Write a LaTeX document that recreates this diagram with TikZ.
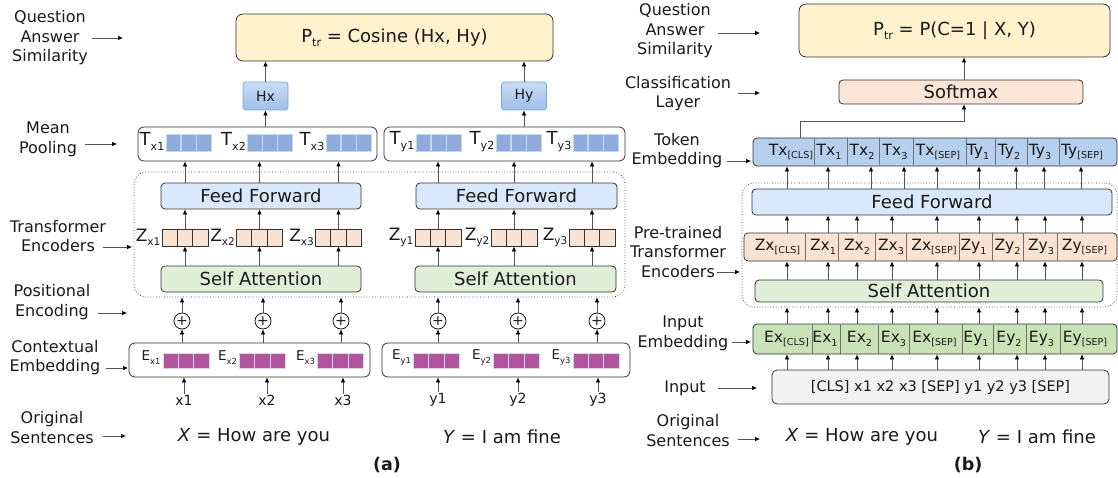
\documentclass[tikz,border=0pt]{standalone}
\usepackage{fontspec}
\setmainfont{DejaVu Sans}
\usetikzlibrary{arrows.meta,calc}

\definecolor{txt}{HTML}{1A1A1A}
\definecolor{bd}{HTML}{333333}
\definecolor{ylw}{HTML}{FFF2CC}
\definecolor{hTop}{HTML}{C9DCF5}
\definecolor{hBot}{HTML}{9FBFEA}
\definecolor{hBd}{HTML}{7EA6E0}
\definecolor{tsq}{HTML}{8EADDC}
\definecolor{tsqBd}{HTML}{C6D5EE}
\definecolor{ffc}{HTML}{DAE8FC}
\definecolor{zc}{HTML}{FBE3D3}
\definecolor{sac}{HTML}{E0EFD8}
\definecolor{esq}{HTML}{B0559C}
\definecolor{esqBd}{HTML}{DAD3EE}
\definecolor{tokc}{HTML}{B7CFEE}
\definecolor{peach}{HTML}{FBE5D6}
\definecolor{exc}{HTML}{C9E3B7}
\definecolor{inc}{HTML}{F2F2F2}
\definecolor{arrc}{HTML}{555555}

\newcommand{\fsz}[2]{\fontsize{#1pt}{#2pt}\selectfont}
\newcommand{\lo}[1]{\raisebox{-0.25em}{\scalebox{0.62}{#1}}}

% three equal cells side by side, drawn as one node plus two dividers
\newcommand{\trio}[5]{%
  \node[#4] (#1) at (#2,#3) {};
  \draw[#5] ($(#1.north west)!1/3!(#1.north east)$) -- ($(#1.south west)!1/3!(#1.south east)$)
            ($(#1.north west)!2/3!(#1.north east)$) -- ($(#1.south west)!2/3!(#1.south east)$);}

\begin{document}
\begin{tikzpicture}[x=1pt,y=-1pt,every node/.style={text=txt}]
\tikzset{
  box/.style={draw=bd,line width=0.8pt,rounded corners=4pt,inner sep=0pt,font=\fsz{18}{21}},
  lbl/.style={font=\fsz{16}{19.5},align=center,inner sep=0pt},
  arr/.style={draw=arrc,line width=0.7pt,-{Latex[length=5pt,width=4.5pt,color=black]}},
  hbox/.style={top color=hTop,bottom color=hBot,draw=hBd,line width=0.8pt,rounded corners=3pt,
    minimum width=45pt,minimum height=28pt,inner sep=0pt,font=\fsz{14}{16}},
  pool/.style={draw=bd,fill=white,line width=0.8pt,rounded corners=6pt,minimum height=34pt,inner sep=0pt},
  encl/.style={draw=bd,dotted,line width=0.7pt,rounded corners=12pt,inner sep=0pt},
  tgrp/.style={fill=tsq,draw=tsqBd,line width=0.9pt,minimum width=45pt,minimum height=17pt,inner sep=0pt},
  tdiv/.style={draw=tsqBd,line width=1.3pt},
  zgrp/.style={fill=zc,draw=bd,line width=0.8pt,minimum width=46pt,minimum height=17pt,inner sep=0pt},
  zdiv/.style={draw=bd,line width=0.8pt},
  egrp/.style={fill=esq,draw=esqBd,line width=0.9pt,minimum width=46pt,minimum height=15pt,inner sep=0pt},
  ediv/.style={draw=esqBd,line width=1.3pt},
  tlab/.style={font=\fsz{18}{20},inner sep=0pt},
  zlab/.style={font=\fsz{17}{20},inner sep=0pt},
  elab/.style={font=\fsz{13.5}{16},inner sep=0pt},
  plus/.style={circle,draw=black,fill=white,line width=0.7pt,minimum size=16pt,inner sep=0pt,font=\fsz{14}{14}},
  word/.style={font=\fsz{14}{16},inner sep=1pt},
  sent/.style={font=\fsz{18}{21},inner sep=0pt},
  panelcap/.style={font=\fsz{17.5}{20}\bfseries,inner sep=0pt},
  row/.style={draw=bd,line width=0.8pt,rounded corners=4pt,inner sep=0pt},
  rdiv/.style={draw=bd!70,line width=0.6pt},
  rlab/.style={font=\fsz{15.5}{18},inner sep=0pt},
}
\useasboundingbox (0,0) rectangle (1118,478);

% ================= (a) bi-encoder =================
% side labels
\node[lbl] (qaA) at (50,38) {Question\\Answer\\Similarity};
\node[lbl] (mpA) at (48,139.5) {Mean\\Pooling};
\node[lbl] (teA) at (58,236) {Transformer\\Encoders};
\node[lbl] (peA) at (52,302) {Positional\\Encoding};
\node[lbl] (ceA) at (55,357.5) {Contextual\\Embedding};
\node[lbl] (osA) at (52,427.5) {Original\\Sentences};
\coordinate (qaA1) at (92,38);   \coordinate (qaA2) at (123,38);
\coordinate (mpA1) at (85,144);  \coordinate (mpA2) at (117,144);
\coordinate (teA1) at (103,247); \coordinate (teA2) at (132,247);
\coordinate (peA1) at (98,313);  \coordinate (peA2) at (127,313);
\coordinate (ceA1) at (106,368); \coordinate (ceA2) at (128,368);
\coordinate (osA1) at (103,436); \coordinate (osA2) at (126,436);
\foreach \p in {qaA,mpA,teA,peA,ceA,osA} \draw[arr] (\p1) -- (\p2);

% similarity head
\node[box,fill=ylw,rounded corners=7pt,minimum width=317pt,minimum height=47pt] (simA) at (394.5,37.5)
  {P\lo{tr} = Cosine (Hx, Hy)};
\node[hbox] (hx) at (265.5,96) {Hx};
\node[hbox] (hy) at (524,96) {Hy};

% mean pooling rows
\node[pool,minimum width=239pt] (tx) at (257.5,144) {};
\node[pool,minimum width=241pt] (ty) at (504.5,144) {};
\trio{tsx1}{188.5}{142.5}{tgrp}{tdiv}
\trio{tsx2}{270}{142.5}{tgrp}{tdiv}
\trio{tsx3}{348.5}{142.5}{tgrp}{tdiv}
\trio{tsy1}{438.5}{142.5}{tgrp}{tdiv}
\trio{tsy2}{518.5}{142.5}{tgrp}{tdiv}
\trio{tsy3}{595.5}{142.5}{tgrp}{tdiv}
\foreach \g/\t in {tsx1/x1,tsx2/x2,tsx3/x3,tsy1/y1,tsy2/y2,tsy3/y3}
  \node[tlab,anchor=east] at ([xshift=-1pt,yshift=1pt]\g.west) {T\lo{\t}};

% encoder block
\node[encl,minimum width=491pt,minimum height=125pt] (encA) at (379.5,234.5) {};
\node[box,fill=ffc,minimum width=200pt,minimum height=26pt] (ffA) at (261,196) {Feed Forward};
\node[box,fill=ffc,minimum width=201pt,minimum height=26pt] (ffB) at (516.5,196) {Feed Forward};
\node[box,fill=sac,minimum width=200pt,minimum height=26pt] (saA) at (261,279) {Self Attention};
\node[box,fill=sac,minimum width=201pt,minimum height=26pt] (saB) at (515.5,279) {Self Attention};
\trio{zx1}{185}{237.5}{zgrp}{zdiv}
\trio{zx2}{259.5}{237.5}{zgrp}{zdiv}
\trio{zx3}{338.5}{237.5}{zgrp}{zdiv}
\trio{zy1}{438}{237.5}{zgrp}{zdiv}
\trio{zy2}{514}{237.5}{zgrp}{zdiv}
\trio{zy3}{592}{237.5}{zgrp}{zdiv}
\foreach \g/\t in {zx1/x1,zx2/x2,zx3/x3,zy1/y1,zy2/y2,zy3/y3}
  \node[zlab,anchor=east] at ([xshift=-1pt]\g.west) {Z\lo{\t}};

% contextual embeddings
\node[pool,minimum width=241pt] (ex) at (249.5,360) {};
\node[pool,minimum width=248pt] (ey) at (506,360) {};
\trio{esx1}{186}{360.5}{egrp}{ediv}
\trio{esx2}{262.5}{360.5}{egrp}{ediv}
\trio{esx3}{340.5}{360.5}{egrp}{ediv}
\trio{esy1}{436.5}{360.5}{egrp}{ediv}
\trio{esy2}{516.5}{360.5}{egrp}{ediv}
\trio{esy3}{596}{360.5}{egrp}{ediv}
\foreach \g/\t in {esx1/x1,esx2/x2,esx3/x3,esy1/y1,esy2/y2,esy3/y3}
  \node[elab,anchor=east] at ([xshift=-2pt,yshift=3pt]\g.west) {E\lo{\t}};

% positional encoding and inputs
\foreach \n/\x/\w in {x1/182/184,x2/263/267,x3/341/343,y1/438/438,y2/518/518,y3/597/598}{
  \node[plus] (p\n) at (\x,321) {+};
  \node[word] (w\n) at (\w,400) {\n};
}
\foreach \n in {x1,x2,x3} {
  \draw[arr] (w\n.north) -- (ex.south -| w\n);
  \draw[arr] (ex.north -| p\n) -- (p\n.south);
  \draw[arr] (p\n.north) -- (encA.south -| p\n);
}
\foreach \n in {y1,y2,y3} {
  \draw[arr] (w\n.north) -- (ey.south -| w\n);
  \draw[arr] (ey.north -| p\n) -- (p\n.south);
  \draw[arr] (p\n.north) -- (encA.south -| p\n);
}
\foreach \n/\s/\f/\t in {x1/saA/ffA/tx,x2/saA/ffA/tx,x3/saA/ffA/tx,y1/saB/ffB/ty,y2/saB/ffB/ty,y3/saB/ffB/ty}{
  \draw[arr] (\s.north -| z\n) -- (z\n.south);
  \draw[arr] (z\n.north) -- (\f.south -| z\n);
  \draw[arr] (\f.north -| z\n) -- (\t.south -| z\n);
}
\draw[arr] (tx.north -| hx) -- (hx.south);
\draw[arr] (ty.north -| hy) -- (hy.south);
\draw[arr] (hx.north) -- (simA.south -| hx);
\draw[arr] (hy.north) -- (simA.south -| hy);

\node[sent] (sxA) at (254,437) {\textit{X} = How are you};
\node[sent] (syA) at (502,437) {\textit{Y} = I am fine};
\node[panelcap] (capA) at (387,465) {(a)};

% ================= (b) cross-encoder =================
\node[lbl] (qaB) at (675,31) {Question\\Answer\\Similarity};
\node[lbl] (clB) at (678,93.5) {Classification\\Layer};
\node[lbl] (tkB) at (677,150.5) {Token\\Embedding};
\node[lbl] (ptB) at (678,252) {Pre-trained\\Transformer\\Encoders};
\node[lbl] (ieB) at (683,333.5) {Input\\Embedding};
\node[lbl] (inL) at (685,388) {Input};
\node[lbl] (osB) at (688,430.5) {Original\\Sentences};
\coordinate (qaB1) at (718,33);  \coordinate (qaB2) at (760,33);
\coordinate (clB1) at (738,93);  \coordinate (clB2) at (760,93);
\coordinate (tkB1) at (727,161); \coordinate (tkB2) at (751,161);
\coordinate (ptB1) at (717,272); \coordinate (ptB2) at (740,272);
\coordinate (ieB1) at (732,342); \coordinate (ieB2) at (751,342);
\coordinate (inL1) at (718,388); \coordinate (inL2) at (757,388);
\coordinate (osB1) at (738,439); \coordinate (osB2) at (760,439);
\foreach \p in {qaB,clB,tkB,ptB,ieB,inL,osB} \draw[arr] (\p1) -- (\p2);

\node[box,fill=ylw,rounded corners=7pt,minimum width=311pt,minimum height=53pt] (simB) at (954.5,30.5)
  {P\lo{tr} = P(C=1 | X, Y)};
\node[box,fill=peach,minimum width=244pt,minimum height=24pt] (soft) at (961,92) {Softmax};

% token embedding row
\node[row,fill=tokc,minimum width=364pt,minimum height=28pt] (tok) at (935,152) {};
\foreach \x in {814,847,879,913,966,995,1027,1059} \draw[rdiv] (\x,138.5) -- (\x,165.5);
\foreach \x/\t in {791/Tx\lo{[CLS]},829/Tx\lo{1},862/Tx\lo{2},895/Tx\lo{3},938/Tx\lo{[SEP]},
                   978/Ty\lo{1},1009/Ty\lo{2},1040/Ty\lo{3},1082/Ty\lo{[SEP]}}
  \node[rlab] at (\x,152) {\t};

% encoder block
\node[encl,minimum width=375pt,minimum height=124pt] (encB) at (929.5,245) {};
\node[box,fill=ffc,minimum width=360pt,minimum height=26pt] (ffC) at (932,202) {Feed Forward};
\node[row,fill=zc,minimum width=373pt,minimum height=28pt] (zrB) at (930.5,247) {};
\foreach \x in {805,838,875,906,959,992,1023,1057} \draw[rdiv] (\x,233.5) -- (\x,260.5);
\foreach \x/\t in {777.5/Zx\lo{[CLS]},823/Zx\lo{1},857/Zx\lo{2},891/Zx\lo{3},934/Zx\lo{[SEP]},
                   973.5/Zy\lo{1},1007.5/Zy\lo{2},1041/Zy\lo{3},1084.5/Zy\lo{[SEP]}}
  \node[rlab] at (\x,247) {\t};
\node[box,fill=sac,minimum width=348pt,minimum height=22pt] (saC) at (929,291) {Self Attention};

% input embedding row
\node[row,fill=exc,minimum width=364pt,minimum height=30pt] (eB) at (935,339) {};
\foreach \x in {812,840,878,909,962,993,1026,1060} \draw[rdiv] (\x,324.5) -- (\x,353.5);
\foreach \x/\t in {786.5/Ex\lo{[CLS]},825/Ex\lo{1},859.5/Ex\lo{2},893.5/Ex\lo{3},934.5/Ex\lo{[SEP]},
                   976/Ey\lo{1},1009/Ey\lo{2},1041.5/Ey\lo{3},1085/Ey\lo{[SEP]}}
  \node[rlab] at (\x,339) {\t};

\node[box,fill=inc,rounded corners=5pt,minimum width=337pt,minimum height=34pt,font=\fsz{14.5}{17}] (inB)
  at (940.5,387) {[CLS] x1 x2 x3 [SEP] y1 y2 y3 [SEP]};

% vertical flow
\foreach \x in {787,828,871,904,937,979,1016,1044,1081}
  \draw[arr] (ffC.north -| \x,0) -- (tok.south -| \x,0);
\foreach \x in {787,828,857,892,937,979,1017,1045,1082} {
  \draw[arr] (zrB.north -| \x,0) -- (ffC.south -| \x,0);
  \draw[arr] (saC.north -| \x,0) -- (zrB.south -| \x,0);
  \draw[arr] (eB.north -| \x,0) -- (encB.south -| \x,0);
  \draw[arr] (inB.north -| \x,0) -- (eB.south -| \x,0);
}
\coordinate (bend) at (964,121);
\draw[arr] (tok.north -| 800,0) |- (bend) -- (soft.south -| bend);
\draw[arr] (soft.north -| bend) -- (simB.south -| bend);

\node[sent] (sxB) at (862,437) {\textit{X} = How are you};
\node[sent] (syB) at (1037,437) {\textit{Y} = I am fine};
\node[panelcap] (capB) at (968,465) {(b)};
\end{tikzpicture}
\end{document}
